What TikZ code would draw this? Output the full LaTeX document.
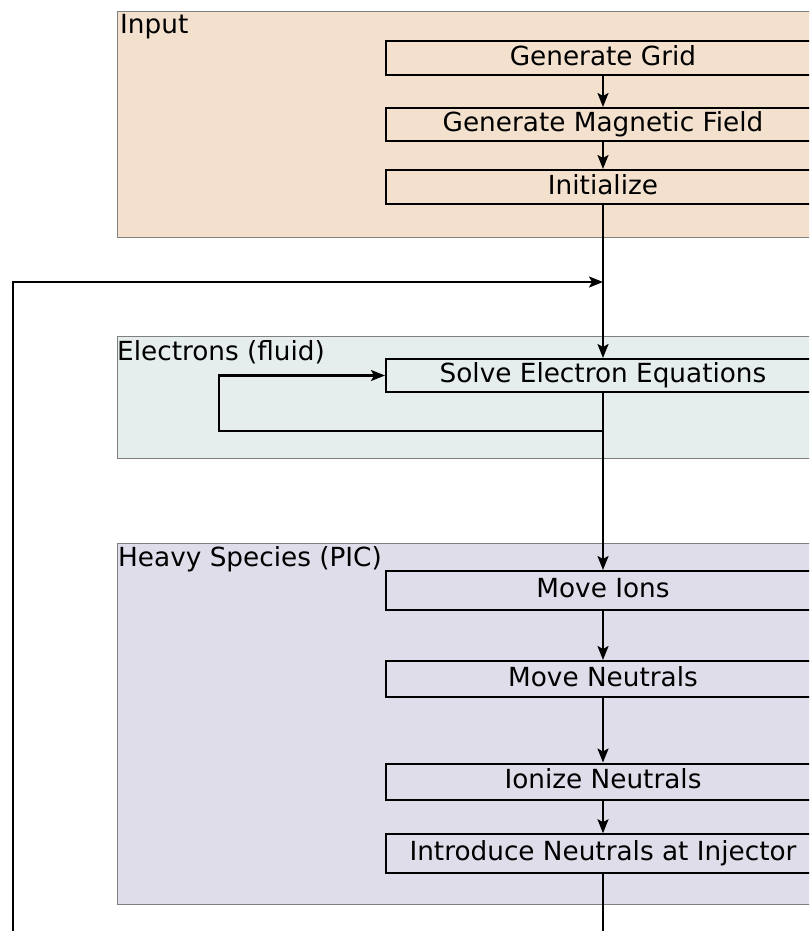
\documentclass[tikz,border=0pt]{standalone}
\usepackage{fontspec}
\setmainfont{DejaVu Sans}
\usetikzlibrary{arrows.meta}
\definecolor{inputfill}{HTML}{F3E1CE}
\definecolor{elecfill}{HTML}{E5EEED}
\definecolor{heavyfill}{HTML}{DFDDEA}
\definecolor{groupline}{HTML}{808080}
\begin{document}
\begin{tikzpicture}[x=1pt,y=-1pt,
  txt/.style={font=\fontsize{26.3}{31}\selectfont},
  stepbox/.style={txt, draw=black, line width=2pt, minimum width=434pt,
    inner sep=0pt, text height=20.2pt, text depth=5.7pt},
  group/.style={draw=groupline, line width=1.1pt, anchor=north west,
    minimum width=720pt, inner sep=0pt},
  grouplabel/.style={txt, anchor=base west, inner sep=0pt},
  conn/.style={draw=black, line width=2.2pt},
  arr/.style={conn, -{Stealth[length=14pt,width=11pt,inset=3pt]}}
]
\useasboundingbox (0,0) rectangle (809,931);
\clip (0,0) rectangle (809,931);

% groups
\node[group, fill=inputfill, minimum height=226pt] (ginput) at (117,10.7) {};
\node[group, fill=elecfill, minimum height=121.5pt] (gelec) at (117,336) {};
\node[group, fill=heavyfill, minimum height=361.5pt] (gheavy) at (117,542.7) {};

\node[grouplabel] (linput) at (120,33.3) {Input};
\node[grouplabel] (lelec) at (117,360.7) {Electrons (fluid)};
\node[grouplabel] (lheavy) at (118,566.7) {Heavy Species (PIC)};

% steps
\node[stepbox, minimum height=34pt] (gg) at (603,58) {Generate Grid};
\node[stepbox, minimum height=33pt] (gmf) at (603,124.5) {Generate Magnetic Field};
\node[stepbox, minimum height=34pt] (init) at (603,187) {Initialize};
\node[stepbox, minimum height=33pt] (solve) at (603,375.5) {Solve Electron Equations};
\node[stepbox, minimum height=39pt] (mions) at (603,590.5) {Move Ions};
\node[stepbox, minimum height=36pt] (mneut) at (603,679) {Move Neutrals};
\node[stepbox, minimum height=36pt] (ion) at (603,781.5) {Ionize Neutrals};
\node[stepbox, minimum height=39pt] (intro) at (603,853.7) {Introduce Neutrals at Injector};

% coordinates
\coordinate (join) at (603,282);
\coordinate (ret) at (12.7,945);
\coordinate (loopc) at (219.3,430.7);
\coordinate (bottom) at (603,945);

% connectors
\draw[arr] (gg) -- (gmf);
\draw[arr] (gmf) -- (init);
\draw[arr] (init) -- (solve);
\draw[arr] (ret) |- (join);
\draw[arr] (solve.south) |- (loopc) |- (solve.west);
\draw[arr] (solve) -- (mions);
\draw[arr] (mions) -- (mneut);
\draw[arr] (mneut) -- (ion);
\draw[arr] (ion) -- (intro);
\draw[conn] (intro) -- (bottom);
\end{tikzpicture}
\end{document}
